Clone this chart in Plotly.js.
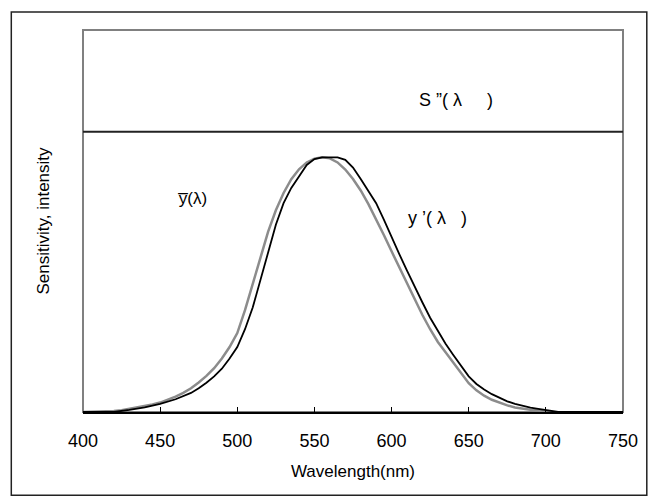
<!DOCTYPE html>
<html>
<head>
<meta charset="utf-8">
<script src="https://cdn.plot.ly/plotly-3.0.1.min.js"></script>
<style>html,body{margin:0;padding:0;background:#fff;}#chart{width:648px;height:502px;}</style>
</head>
<body>
<div id="chart"></div>
<script>
// Wavelengths (nm)
const wlGray = [400,405,410,415,420,425,430,435,440,445,450,455,460,465,470,475,480,485,490,495,500,505,510,515,520,525,530,535,540,545,550,555,560,565,570,575,580,585,590,595,600,605,610,615,620,625,630,635,640,645,650,655,660,665,670,675,680,685,690,695,700];
// ȳ(λ) – gray curve
const yBar = [0.000,0.001,0.001,0.002,0.004,0.007,0.012,0.017,0.023,0.030,0.037,0.047,0.060,0.075,0.093,0.116,0.142,0.172,0.210,0.255,0.310,0.400,0.500,0.606,0.708,0.792,0.860,0.914,0.953,0.980,0.995,1.000,0.996,0.980,0.952,0.915,0.870,0.816,0.757,0.695,0.631,0.567,0.503,0.441,0.381,0.325,0.275,0.235,0.195,0.152,0.113,0.085,0.064,0.048,0.036,0.026,0.018,0.013,0.009,0.006,0.000];

const wlBlack = [400,420,430,440,450,460,470,475,480,485,490,495,500,505,510,515,520,525,530,535,540,545,550,555,560,565,570,575,580,585,590,595,600,605,610,615,620,625,630,635,640,645,650,655,660,665,670,675,680,685,690,695,700,705,708,750];
// y'(λ) – black curve
const yPrime = [0.000,0.000,0.008,0.018,0.032,0.050,0.075,0.093,0.115,0.140,0.170,0.210,0.255,0.325,0.410,0.515,0.625,0.735,0.820,0.880,0.925,0.970,0.993,1.000,1.000,1.000,0.990,0.960,0.915,0.870,0.820,0.755,0.685,0.620,0.555,0.490,0.430,0.370,0.318,0.268,0.224,0.182,0.140,0.110,0.088,0.070,0.055,0.042,0.032,0.024,0.017,0.012,0.008,0.004,0.000,0.000];

// S''(λ) – flat
const wlFlat = [400,750];
const sFlat = [1.1,1.1];

const xTicks = [400,450,500,550,600,650,700,750];

const traces = [
  {x: wlFlat, y: sFlat, mode:'lines', line:{color:'#222', width:2}, hoverinfo:'skip'},
  {x: wlGray, y: yBar, mode:'lines', line:{color:'#8c8c8c', width:2.5}, hoverinfo:'skip'},
  {x: wlBlack, y: yPrime, mode:'lines', line:{color:'#000', width:1.8}, hoverinfo:'skip'}
];

const font = "'Liberation Sans', Arial, sans-serif";
const nb = '\u00A0';

const layout = {
  width:648, height:502,
  margin:{l:82.7, r:25.3, t:30, b:90.3, pad:0},
  paper_bgcolor:'#fff', plot_bgcolor:'#fff',
  showlegend:false,
  font:{family:font, color:'#000'},
  xaxis:{
    range:[400,750], tickvals:xTicks, ticktext:xTicks.map(String),
    ticks:'inside', ticklen:5, tickcolor:'#000', tickwidth:1,
    showline:true, linecolor:'#000', linewidth:1.5,
    showgrid:false, zeroline:false,
    tickfont:{size:18, family:font, color:'#000'},
    ticklabelstandoff:12,
    title:{text:'Wavelength(nm)', font:{size:17, family:font, color:'#000'}, standoff:15}
  },
  yaxis:{
    range:[0,1.5], showticklabels:false, ticks:'', showgrid:false, zeroline:false, showline:false,
    title:{text:'Sensitivity, intensity', font:{size:17, family:font, color:'#000'}, standoff:28}
  },
  shapes:[
    {type:'rect', xref:'paper', yref:'paper', x0:0, x1:1, y0:0, y1:1, line:{color:'#808080', width:2}, layer:'below'},
    {type:'rect', xref:'paper', yref:'paper', x0:(11-82.7)/540, x1:(646.5-82.7)/540, y0:(411.7-495)/381.7, y1:(411.7-12)/381.7, line:{color:'#222', width:1.5}}
  ],
  annotations:[
    {x:641.5, y:1.225, xref:'x', yref:'y', text:'S'+nb+'”('+nb+'λ'+nb+nb+nb+nb+nb+')', showarrow:false, font:{size:18, family:font, color:'#000'}},
    {x:471, y:0.84, xref:'x', yref:'y', text:'y̅(λ)', showarrow:false, font:{size:17, family:font, color:'#000'}},
    {x:630, y:0.76, xref:'x', yref:'y', text:'y'+nb+'’('+nb+'λ'+nb+nb+nb+')', showarrow:false, font:{size:18, family:font, color:'#000'}}
  ]
};

Plotly.newPlot('chart', traces, layout, {displayModeBar:false, staticPlot:true});
</script>
</body>
</html>
